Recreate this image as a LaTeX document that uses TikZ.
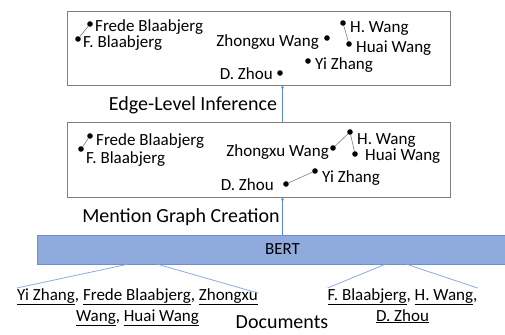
\documentclass[tikz,border=0pt]{standalone}
\usepackage{fontspec}
\setmainfont{Carlito}
\usepackage{tikz}
\usetikzlibrary{arrows.meta}
\usetikzlibrary{positioning}
\definecolor{boxgray}{HTML}{7F7F7F}
\definecolor{bertfill}{HTML}{8FAADC}
\definecolor{bertline}{HTML}{6F8ED0}
\definecolor{flowblue}{HTML}{5B87D0}
\tikzset{
panel/.style = { rectangle, draw = boxgray, line width = 0.8pt, fill = white, inner sep = 0pt },
dot/.style = { circle, fill = black, inner sep = 0pt, minimum size = 5.6pt },
right mention/.style = { anchor = base west, inner sep = 0pt, font = \fontsize{17}{20}\selectfont },
left mention/.style = { anchor = base east, inner sep = 0pt, font = \fontsize{17}{20}\selectfont },
coref/.style = { draw = boxgray, line width = 0.6pt },
flow/.style = { draw = flowblue, line width = 0.9pt, -{Stealth[length = 3pt, width = 3pt]} },
stage/.style = { font = \fontsize{20}{24}\selectfont, inner sep = 0pt },
doc/.style = { align = center, inner sep = 0pt, font = \fontsize{17}{21}\selectfont },
link/.style = { draw = bertfill, line width = 0.8pt },
}
\begin{document}
\begin{tikzpicture}[x = 1pt, y = -1pt]
      \useasboundingbox (0, 0) rectangle (505, 334);
      % edge-level inference
      \node[panel, minimum width = 383pt, minimum height = 74pt] (graph2) at (258.5, 48) {};
      \node[dot] (e1) at (90, 24) {};
      \node[dot] (e2) at (78, 39) {};
      \node[dot] (e3) at (327, 38) {};
      \node[dot] (e4) at (343, 23) {};
      \node[dot] (e5) at (349, 44) {};
      \node[dot] (e6) at (308, 61) {};
      \node[dot] (e7) at (280, 73) {};
      \node[right mention] (n1) at (95, 32) {Frede Blaabjerg};
      \node[right mention] (n2) at (83, 48) {F. Blaabjerg};
      \node[left mention] (n3) at (319, 47) {Zhongxu Wang};
      \node[right mention] (n4) at (350, 33) {H. Wang};
      \node[right mention] (n5) at (356, 53) {Huai Wang};
      \node[right mention] (n6) at (315, 70) {Yi Zhang};
      \node[left mention] (n7) at (273, 80) {D. Zhou};
      \draw[coref] (e1) -- (e2);
      \draw[coref] (e4) -- (e5);
      % mention graph
      \node[panel, minimum width = 383pt, minimum height = 75pt] (graph1) at (258.5, 159.5) {};
      \node[dot] (m1) at (90, 136) {};
      \node[dot] (m2) at (81, 149) {};
      \node[dot] (m3) at (333, 148) {};
      \node[dot] (m4) at (350, 132) {};
      \node[dot] (m5) at (355, 154) {};
      \node[dot] (m6) at (315, 171) {};
      \node[dot] (m7) at (286, 184) {};
      \node[right mention] (l1) at (96, 145) {Frede Blaabjerg};
      \node[right mention] (l2) at (86, 163) {F. Blaabjerg};
      \node[left mention] (l3) at (329, 156) {Zhongxu Wang};
      \node[right mention] (l4) at (357, 144) {H. Wang};
      \node[right mention] (l5) at (365, 160) {Huai Wang};
      \node[right mention] (l6) at (322, 182) {Yi Zhang};
      \node[left mention] (l7) at (274, 190) {D. Zhou};
      \draw[coref] (m1) -- (m2);
      \draw[coref] (m3) -- (m4) -- (m5);
      \draw[coref] (m7) -- (m6);
      % encoder
      \path[fill = bertfill] (37, 235) rectangle (510, 264);
      \draw[bertline, line width = 0.9pt] (510, 235) -- (37, 235) -- (37, 264) -- (510, 264);
      \node[inner sep = 0pt, minimum width = 473pt, minimum height = 29pt, anchor = north west] (bert) at (37, 235) {};
      \node[font = \fontsize{17}{20}\selectfont, inner sep = 0pt] (bertname) at (282.5, 249.5) {BERT};
      \draw[flow] (bert.north -| bertname) -- (graph1.south -| bertname);
      \draw[flow] (graph1.north -| bertname) -- (graph2.south -| bertname);
      \node[stage] (infer) at (193, 105) {Edge-Level Inference};
      \node[stage] (create) at (181, 217) {Mention Graph Creation};
      % documents
      \node[doc, anchor = north] (doc1) at (137.5, 288) {\underline{Yi Zhang}, \underline{Frede Blaabjerg}, \underline{Zhongxu}\\ \underline{Wang}, \underline{Huai Wang}};
      \node[doc, anchor = north] (doc2) at (402.5, 288) {\underline{F. Blaabjerg}, \underline{H. Wang},\\ \underline{D. Zhou}};
      \draw[link] ([xshift = 90pt]bert.south west) -- (doc1.north west);
      \draw[link] ([xshift = 121pt]bert.south west) -- ([yshift = -5pt]doc1.north east);
      \draw[link] ([xshift = 348pt]bert.south west) -- (doc2.north west);
      \draw[link] ([xshift = 370pt]bert.south west) -- (doc2.north east);
      \node[stage, anchor = base] (docs) at (282, 328) {Documents};
    \end{tikzpicture}
\end{document}
